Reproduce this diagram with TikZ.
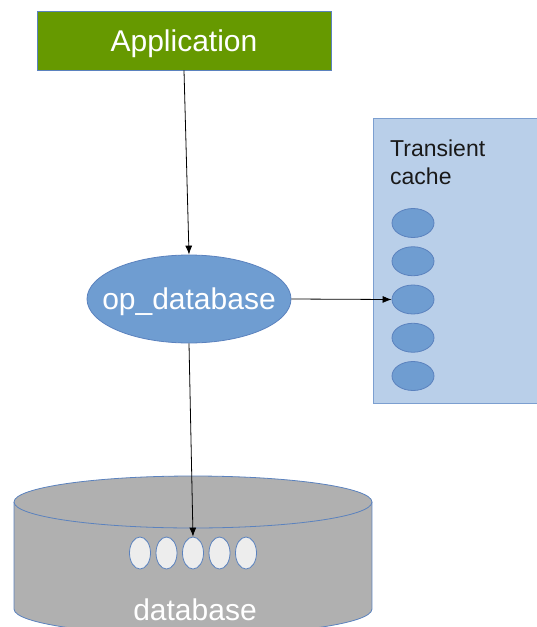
\documentclass[tikz,border=0pt]{standalone}
\usepackage{fontspec}
\setmainfont{Liberation Sans}
\usetikzlibrary{shapes.geometric,arrows.meta}
\definecolor{appgreen}{HTML}{669900}
\definecolor{edgeblue}{HTML}{5B82BE}
\definecolor{opfill}{HTML}{6F9DD1}
\definecolor{cachefill}{HTML}{B9CFE9}
\definecolor{cacheedge}{HTML}{7C9FD0}
\definecolor{dbgray}{HTML}{B0B0B0}
\definecolor{recfill}{HTML}{EDEDED}
\tikzset{
  bigtext/.style={font=\fontsize{30}{36}\selectfont},
  arr/.style={draw=black, line width=0.8pt, -{Latex[length=9pt,width=7pt]}},
  cacheitem/.style={ellipse, draw=edgeblue, line width=0.8pt, fill=opfill, minimum width=42pt, minimum height=29pt, inner sep=0pt},
  dbitem/.style={ellipse, draw=edgeblue, line width=0.8pt, fill=recfill, minimum width=21pt, minimum height=32pt, inner sep=0pt},
}
\begin{document}
\begin{tikzpicture}[x=1pt,y=-1pt]
\useasboundingbox (0,0) rectangle (537,627);
\begin{scope}
\clip (0,0) rectangle (537,627);
% Application
\node[rectangle, draw=edgeblue, line width=0.8pt, fill=appgreen, minimum width=294pt, minimum height=59pt, inner sep=0pt, text=white, bigtext, text depth=0pt] (app) at (184,40.5) {Application};
% op_database
\node[ellipse, draw=edgeblue, line width=0.8pt, fill=opfill, minimum width=204pt, minimum height=88pt, inner sep=0pt, text=white, bigtext, text depth=0pt] (op) at (189,299) {\makebox[0pt]{op\_database}};
% Transient cache
\node[rectangle, draw=cacheedge, line width=0.8pt, fill=cachefill, minimum width=166pt, minimum height=285pt, inner sep=0pt] (cache) at (456,260.5) {};
\node[anchor=north west, align=left, inner sep=0pt, text=black!90, font=\fontsize{23}{28}\selectfont] (cachelabel) at (390,140) {Transient\\cache};
\foreach \i in {1,...,5} {
  \node[cacheitem] (c\i) at (413,{223+38.25*(\i-1)}) {};
}
% database cylinder
\fill[dbgray] (14,502) rectangle (372,609);
\fill[dbgray] (193,609) ellipse [x radius=179pt, y radius=26pt];
\draw[edgeblue, line width=0.8pt] (14,502) -- (14,609) arc[start angle=180, end angle=360, x radius=179pt, y radius=26pt] -- (372,502);
\filldraw[fill=dbgray, draw=edgeblue, line width=0.8pt] (193,502) ellipse [x radius=179pt, y radius=26pt];
\foreach \i in {1,...,5} {
  \node[dbitem] (d\i) at ({140+26.5*(\i-1)},553) {};
}
\node[text=white, bigtext, anchor=base, inner sep=0pt] (dblabel) at (195,620) {database};
\end{scope}
% connectors
\draw[arr] (app.south) -- (op.north);
\draw[arr] (op.east) -- (c3.west);
\draw[arr] (op.south) -- (d3.north);
\end{tikzpicture}
\end{document}
